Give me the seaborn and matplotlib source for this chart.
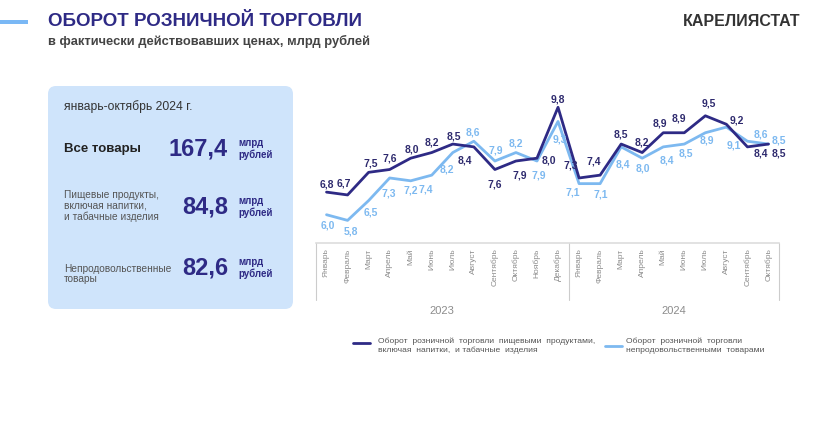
import numpy as np
import pandas as pd
import matplotlib.pyplot as plt
import seaborn as sns
from matplotlib.lines import Line2D
from matplotlib.patches import FancyBboxPatch, Rectangle
import matplotlib.transforms as mtransforms

months = ["Январь", "Февраль", "Март", "Апрель", "Май", "Июнь", "Июль", "Август",
          "Сентябрь", "Октябрь", "Ноябрь", "Декабрь"]
years = ["2023", "2024"]
tick_labels = months + months[:10]

food = [6.8, 6.7, 7.5, 7.6, 8.0, 8.2, 8.5, 8.4, 7.6, 7.9, 8.0, 9.8,
        7.3, 7.4, 8.5, 8.2, 8.9, 8.9, 9.5, 9.2, 8.4, 8.5]
nonfood = [6.0, 5.8, 6.5, 7.3, 7.2, 7.4, 8.2, 8.6, 7.9, 8.2, 7.9, 9.3,
           7.1, 7.1, 8.4, 8.0, 8.4, 8.5, 8.9, 9.1, 8.6, 8.5]

food_name = "Оборот  розничной  торговли  пищевыми  продуктами,\nвключая  напитки,  и табачные  изделия"
nonfood_name = "Оборот  розничной  торговли\nнепродовольственными  товарами"

# label offsets in pixels (dx, dy up)
food_off = [(0, 8), (-4, 11), (2, 9), (0, 11), (1, 9), (0, 10), (1, 8), (-9, -14), (0, -15), (4, -14), (12, -2), (0, 8),
            (-8, 12), (-6, 14), (0, 10), (0, 10), (-3, 9), (-5, 14), (3, 12), (10, 4), (13, -7), (10, -9)]
nonfood_off = [(1, -11), (3, -11), (2, -12), (-1, -16), (0, -10), (-6, -14), (-6, -17), (-1, 9), (1, 11), (0, 9), (2, -14), (2, -18),
               (-6, -9), (1, -11), (2, -18), (1, -10), (4, -14), (2, -9), (2, -8), (7, -18), (13, 7), (10, 4)]

DARK = "#2e2a85"
LIGHT = "#7db9f0"

sns.set_style("white")
plt.rcParams['font.family'] = ['Liberation Sans', 'DejaVu Sans']

W, H = 832, 432
fig = plt.figure(figsize=(W / 100, H / 100), dpi=100)


def fx(x):
    return x / W


def fy(y):
    return 1 - y / H


# header
fig.add_artist(Rectangle((0, 432 - 24), 28, 4, transform=None, color="#7ab8f5", lw=0))
fig.text(fx(48), fy(21), "ОБОРОТ РОЗНИЧНОЙ ТОРГОВЛИ", fontsize=13.5, fontweight="bold",
         color="#2e2a85", va="center", ha="left")
fig.text(fx(48), fy(41), "в фактически действовавших ценах, млрд рублей", fontsize=9.3,
         fontweight="bold", color="#444444", va="center", ha="left")
fig.text(fx(800), fy(21), "КАРЕЛИЯСТАТ", fontsize=11.5, fontweight="bold",
         color="#333333", va="center", ha="right")

# left panel
fig.add_artist(FancyBboxPatch((48, 432 - 309), 245, 223, boxstyle="round,pad=0,rounding_size=8",
                              transform=None, fc="#cfe4fb", ec="none"))
fig.text(fx(64), fy(107), "январь-октябрь 2024 г.", fontsize=8.7, color="#333333", va="center")
fig.text(fx(64), fy(149), "Все товары", fontsize=9.5, fontweight="bold", color="#222222", va="center")
fig.text(fx(64), fy(206), "Пищевые продукты,\nвключая напитки,\nи табачные изделия", fontsize=7.3,
         color="#555555", va="center", linespacing=1.05)
fig.text(fx(64), fy(274), "Непродовольственные\nтовары", fontsize=7.3, color="#555555",
         va="center", linespacing=1.05)
for y, val in [(149, "167,4"), (207, "84,8"), (268, "82,6")]:
    fig.text(fx(228), fy(y), val, fontsize=17, fontweight="bold", color="#2e2a85",
             va="center", ha="right")
    fig.text(fx(238), fy(y), "млрд\nрублей", fontsize=7, fontweight="bold", color="#2e2a85",
             va="center", ha="left", linespacing=1.1)

# chart
ax = fig.add_axes([fx(316), fy(243), 463 / W, 147 / H])
df = pd.DataFrame({
    "idx": list(range(len(food))) * 2,
    "value": food + nonfood,
    "series": ["food"] * len(food) + ["nonfood"] * len(nonfood),
})
sns.lineplot(data=df, x="idx", y="value", hue="series", palette={"food": DARK, "nonfood": LIGHT},
             hue_order=["nonfood", "food"], linewidth=2.0, legend=False, ax=ax)

for vals, offs, col in [(food, food_off, "#2e2a6e"), (nonfood, nonfood_off, LIGHT)]:
    for i, v in enumerate(vals):
        ax.annotate(f"{v:.1f}".replace(".", ","), (i, v), xytext=offs[i], textcoords="offset pixels",
                    ha="center", va="center", fontsize=7.5, fontweight="bold", color=col)

ax.set_xlim(-0.5, len(food) - 0.5)
ax.set_ylim(5.0, 10.2)
ax.set_xlabel("")
ax.set_ylabel("")
ax.set_yticks([])
ax.set_xticks(range(len(tick_labels)))
ax.set_xticklabels(tick_labels, rotation=90, fontsize=6, color="#8c8c8c")
ax.tick_params(axis="x", length=0, pad=4)
for s in ["top", "left", "right"]:
    ax.spines[s].set_visible(False)
ax.spines["bottom"].set_color("#dddddd")
ax.spines["bottom"].set_linewidth(1.2)

trans = mtransforms.blended_transform_factory(ax.transData, ax.transAxes)
for xs in [-0.5, 11.5, 21.5]:
    ax.add_line(Line2D([xs, xs], [0, -0.39], transform=trans, color="#cccccc", lw=0.8, clip_on=False))
ax.text(5.5, -0.46, years[0], transform=trans, ha="center", va="center", fontsize=8, color="#8c8c8c")
ax.text(16.5, -0.46, years[1], transform=trans, ha="center", va="center", fontsize=8, color="#8c8c8c")

# legend
fig.add_artist(Line2D([fx(353), fx(370)], [fy(343), fy(343)], color=DARK, lw=2.0))
fig.text(fx(378), fy(346), food_name, fontsize=6.1, color="#555555", va="center", linespacing=1.3)
fig.add_artist(Line2D([fx(605), fx(622)], [fy(346), fy(346)], color=LIGHT, lw=2.0))
fig.text(fx(626), fy(346), nonfood_name, fontsize=6.1, color="#555555", va="center", linespacing=1.3)

fig.savefig("out.png", dpi=100)
